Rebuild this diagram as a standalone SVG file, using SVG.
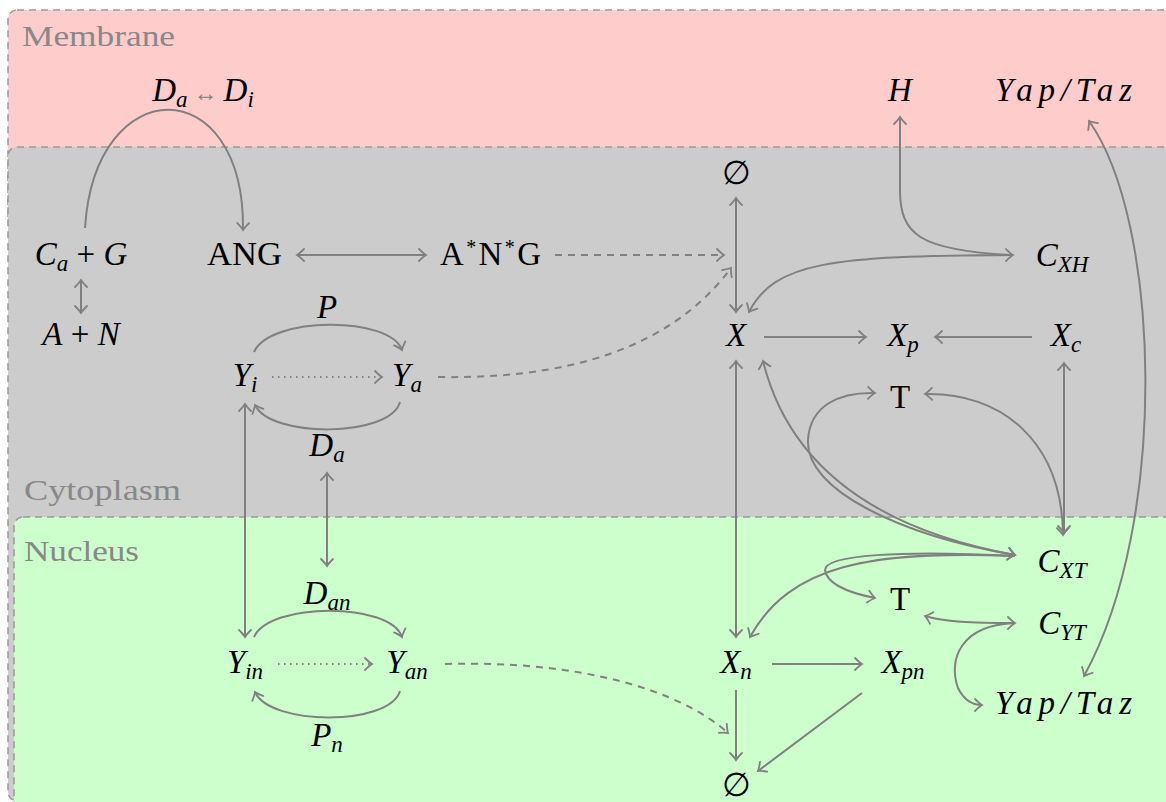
<svg xmlns="http://www.w3.org/2000/svg" width="1166" height="802" viewBox="0 0 1166 802">
<style>
.m{font-family:"Liberation Serif","DejaVu Serif",serif;font-style:italic;font-size:33px;fill:#000}
.r{font-family:"Liberation Serif","DejaVu Serif",serif;font-style:normal;font-size:33px;fill:#000}
.s{font-size:23px}
.lbl{font-family:"Liberation Serif",serif;font-size:30px;fill:#888}
.panel{stroke:#999;stroke-width:1.5;stroke-dasharray:7 5}
.c{fill:none;stroke:#808080;stroke-width:2}
.e{marker-end:url(#ah)}
.b{marker-start:url(#ah);marker-end:url(#ah)}
.d{stroke-dasharray:7 6}
.dt{stroke-dasharray:1.5 4.5}
</style>
<defs>
<marker id="ah" markerUnits="userSpaceOnUse" viewBox="-10 -8 12 16" markerWidth="12" markerHeight="16" refX="0" refY="0" orient="auto-start-reverse">
<path d="M-7,-6 Q-2.5,-1.5 0,0 Q-2.5,1.5 -7,6" fill="none" stroke="#808080" stroke-width="1.8" stroke-linecap="round"/>
</marker>
</defs>
<g id="panels">
<rect id="membrane" class="panel" x="8" y="10" width="1220" height="220" rx="9" fill="#FFCCCC"/>
<rect id="cytoplasm" class="panel" x="8" y="147" width="1220" height="654" rx="9" fill="#CCCCCC"/>
<rect id="nucleus" class="panel" x="14" y="517" width="1220" height="400" rx="9" fill="#CCFFCC"/>
<text class="lbl" x="22" y="46" textLength="153" lengthAdjust="spacingAndGlyphs">Membrane</text>
<text class="lbl" x="24" y="500" textLength="157" lengthAdjust="spacingAndGlyphs">Cytoplasm</text>
<text class="lbl" x="24" y="561" textLength="115" lengthAdjust="spacingAndGlyphs">Nucleus</text>
</g>
<g id="connectors">
<path class="c e" d="M85 228 C95 70, 245 70, 243 230"/>
<path class="c b" d="M81 280 L81 313"/>
<path class="c b" d="M297 255 L426 255"/>
<path class="c e d" d="M555 255 L724 255"/>
<path class="c e d" d="M438 377 C600 380, 685 330, 731 268"/>
<path class="c b" d="M736 198 L736 312"/>
<path class="c e" d="M1010 255 C920 250, 900 235, 900 190 L900 117"/>
<path class="c b" d="M749 312 C775 262, 830 256, 1013 255"/>
<path class="c e" d="M764 337 L866 337"/>
<path class="c e" d="M1032 337 L935 337"/>
<path class="c b" d="M1064 363 L1064 533"/>
<path class="c b" d="M736 361 L736 637"/>
<path class="c b" d="M763 361 C790 470, 880 530, 1015 555"/>
<path class="c b" d="M1015 555 C900 535, 805 490, 808 440 C810 405, 840 392, 875 393"/>
<path class="c b" d="M925 394 C1000 392, 1062 440, 1063 535"/>
<path class="c e" d="M1015 556 C870 550, 790 565, 750 637"/>
<path class="c e" d="M1015 556 C900 550, 825 555, 825 570 C827 585, 850 593, 875 598"/>
<path class="c b" d="M925 616 C945 622, 970 623, 1015 623"/>
<path class="c e" d="M1015 623 C960 625, 948 660, 958 688 C965 702, 975 705, 982 705"/>
<path class="c b" d="M1089 121 C1160 220, 1170 520, 1084 676"/>
<path class="c e" d="M772 664 L862 664"/>
<path class="c e" d="M736 690 L736 760"/>
<path class="c e" d="M862 693 L758 771"/>
<path class="c e d" d="M445 664 C580 660, 680 690, 728 733"/>
<path class="c e" d="M254 352 C270 316, 390 316, 402 350"/>
<path class="c e" d="M400 402 C390 438, 270 438, 255 405"/>
<path class="c e dt" d="M272 377 L382 377"/>
<path class="c b" d="M245 404 L245 637"/>
<path class="c b" d="M327 473 L327 566"/>
<path class="c e" d="M254 637 C270 602, 390 602, 402 637"/>
<path class="c e" d="M400 691 C390 726, 270 726, 255 692"/>
<path class="c e dt" d="M278 664 L372 664"/>
</g>
<g id="n-DaDi"><text class="m" x="203" y="101" text-anchor="middle">D<tspan class="s" dy="6">a</tspan><tspan dy="-6" font-style="normal" fill="#808080" font-size="24"> ↔ </tspan>D<tspan class="s" dy="6">i</tspan></text></g>
<g id="n-H"><text class="m" x="900" y="101" text-anchor="middle">H</text></g>
<g id="n-YapTop"><text class="m" x="995" y="101" textLength="137" lengthAdjust="spacing">Yap/Taz</text></g>
<g id="n-CaG"><text class="m" x="81" y="265" text-anchor="middle">C<tspan class="s" dy="6">a</tspan><tspan dy="-6" font-style="normal"> + </tspan>G</text></g>
<g id="n-AN"><text class="m" x="81" y="345" text-anchor="middle">A<tspan font-style="normal"> + </tspan>N</text></g>
<g id="n-ANG"><text class="r" x="207" y="265" textLength="75" lengthAdjust="spacingAndGlyphs">ANG</text></g>
<g id="n-ANGs"><text class="r" x="440" y="265" textLength="101" lengthAdjust="spacing">A<tspan font-size="20" dy="-11">*</tspan><tspan dy="11">N</tspan><tspan font-size="20" dy="-11">*</tspan><tspan dy="11">G</tspan></text></g>
<g id="n-null1"><text class="r" x="736" y="184" text-anchor="middle">∅</text></g>
<g id="n-X"><text class="m" x="736" y="346" text-anchor="middle">X</text></g>
<g id="n-Xp"><text class="m" x="903" y="346" text-anchor="middle">X<tspan class="s" dy="6">p</tspan></text></g>
<g id="n-Xc"><text class="m" x="1066" y="346" text-anchor="middle">X<tspan class="s" dy="6">c</tspan></text></g>
<g id="n-CXH"><text class="m" x="1062" y="266" text-anchor="middle">C<tspan class="s" dy="6">XH</tspan></text></g>
<g id="n-T1"><text class="r" x="900" y="408" text-anchor="middle">T</text></g>
<g id="n-CXT"><text class="m" x="1062" y="572" text-anchor="middle">C<tspan class="s" dy="6">XT</tspan></text></g>
<g id="n-T2"><text class="r" x="900" y="610" text-anchor="middle">T</text></g>
<g id="n-CYT"><text class="m" x="1062" y="634" text-anchor="middle">C<tspan class="s" dy="6">YT</tspan></text></g>
<g id="n-YapBot"><text class="m" x="995" y="714" textLength="137" lengthAdjust="spacing">Yap/Taz</text></g>
<g id="n-Xn"><text class="m" x="736" y="673" text-anchor="middle">X<tspan class="s" dy="6">n</tspan></text></g>
<g id="n-Xpn"><text class="m" x="903" y="673" text-anchor="middle">X<tspan class="s" dy="6">pn</tspan></text></g>
<g id="n-null2"><text class="r" x="736" y="796" text-anchor="middle">∅</text></g>
<g id="n-Yi"><text class="m" x="245" y="386" text-anchor="middle">Y<tspan class="s" dy="6">i</tspan></text></g>
<g id="n-Ya"><text class="m" x="407" y="386" text-anchor="middle">Y<tspan class="s" dy="6">a</tspan></text></g>
<g id="n-P"><text class="m" x="327" y="318" text-anchor="middle">P</text></g>
<g id="n-Da"><text class="m" x="327" y="456" text-anchor="middle">D<tspan class="s" dy="6">a</tspan></text></g>
<g id="n-Dan"><text class="m" x="327" y="604" text-anchor="middle">D<tspan class="s" dy="6">an</tspan></text></g>
<g id="n-Yin"><text class="m" x="245" y="673" text-anchor="middle">Y<tspan class="s" dy="6">in</tspan></text></g>
<g id="n-Yan"><text class="m" x="407" y="673" text-anchor="middle">Y<tspan class="s" dy="6">an</tspan></text></g>
<g id="n-Pn"><text class="m" x="327" y="746" text-anchor="middle">P<tspan class="s" dy="6">n</tspan></text></g>
</svg>
